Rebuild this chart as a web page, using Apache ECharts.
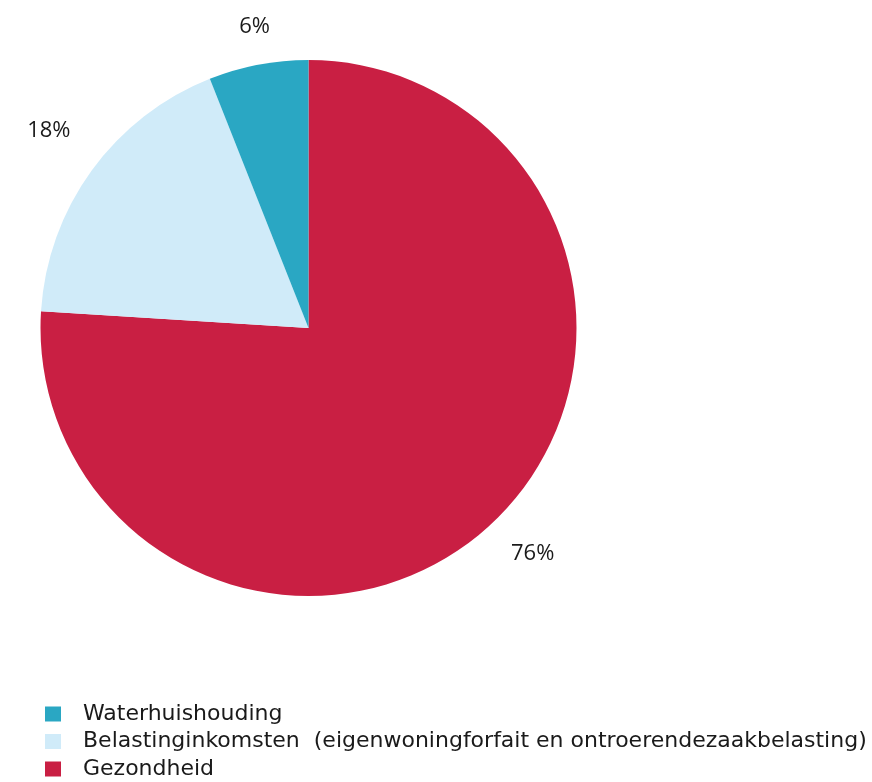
<!DOCTYPE html>
<html>
<head>
<meta charset="utf-8">
<script src="https://cdn.jsdelivr.net/npm/echarts@6/dist/echarts.min.js"></script>
<style>
  html, body { margin: 0; padding: 0; background: #ffffff; }
  #chart { width: 872px; height: 782px; }
</style>
</head>
<body>
<div id="chart"></div>
<script>
// Slice order runs clockwise from 12 o'clock
const categories = [
  'Gezondheid',
  'Belastinginkomsten  (eigenwoningforfait en ontroerendezaakbelasting)',
  'Waterhuishouding'
];
const shares = [76, 18, 6];
const colors = ['#c91f43', '#d0ebf9', '#2aa7c3'];
// Legend lists the categories in reverse
const legendOrder = categories.slice().reverse();

// Per-slice label placement: radial offset beyond the rim and horizontal nudge
const labelRadial = [41, 67, 39];
const labelNudge = [-9, -33, -19];

const FONT = '"Open Sans", Lato, sans-serif';
const LEGEND_FONT = '"DejaVu Sans", "Open Sans", sans-serif';

const chart = echarts.init(document.getElementById('chart'), null, { renderer: 'canvas' });

chart.setOption({
  animation: false,
  textStyle: { fontFamily: FONT },
  legend: {
    data: legendOrder,
    orient: 'vertical',
    left: 45,
    top: 703,
    height: 200,
    padding: 0,
    itemWidth: 16,
    itemHeight: 15,
    itemGap: 5.5,
    icon: 'rect',
    selectedMode: false,
    textStyle: {
      fontSize: 22,
      lineHeight: 22,
      color: '#1a1a1a',
      fontFamily: LEGEND_FONT,
      padding: [0, 0, 0, 17],
      whiteSpace: 'pre'
    }
  },
  series: [{
    type: 'pie',
    center: [308.5, 328],
    radius: 268,
    startAngle: 90,
    clockwise: true,
    avoidLabelOverlap: false,
    data: categories.map((name, i) => ({
      name,
      value: shares[i],
      itemStyle: { color: colors[i] },
      label: { distanceToLabelLine: labelNudge[i] },
      labelLine: { length: labelRadial[i], length2: 0 }
    })),
    label: {
      show: true,
      position: 'outside',
      formatter: '{c}%',
      fontSize: 22,
      color: '#1a1a1a',
      fontFamily: FONT
    },
    labelLine: { show: false },
    emphasis: { disabled: true }
  }]
});
</script>
</body>
</html>
